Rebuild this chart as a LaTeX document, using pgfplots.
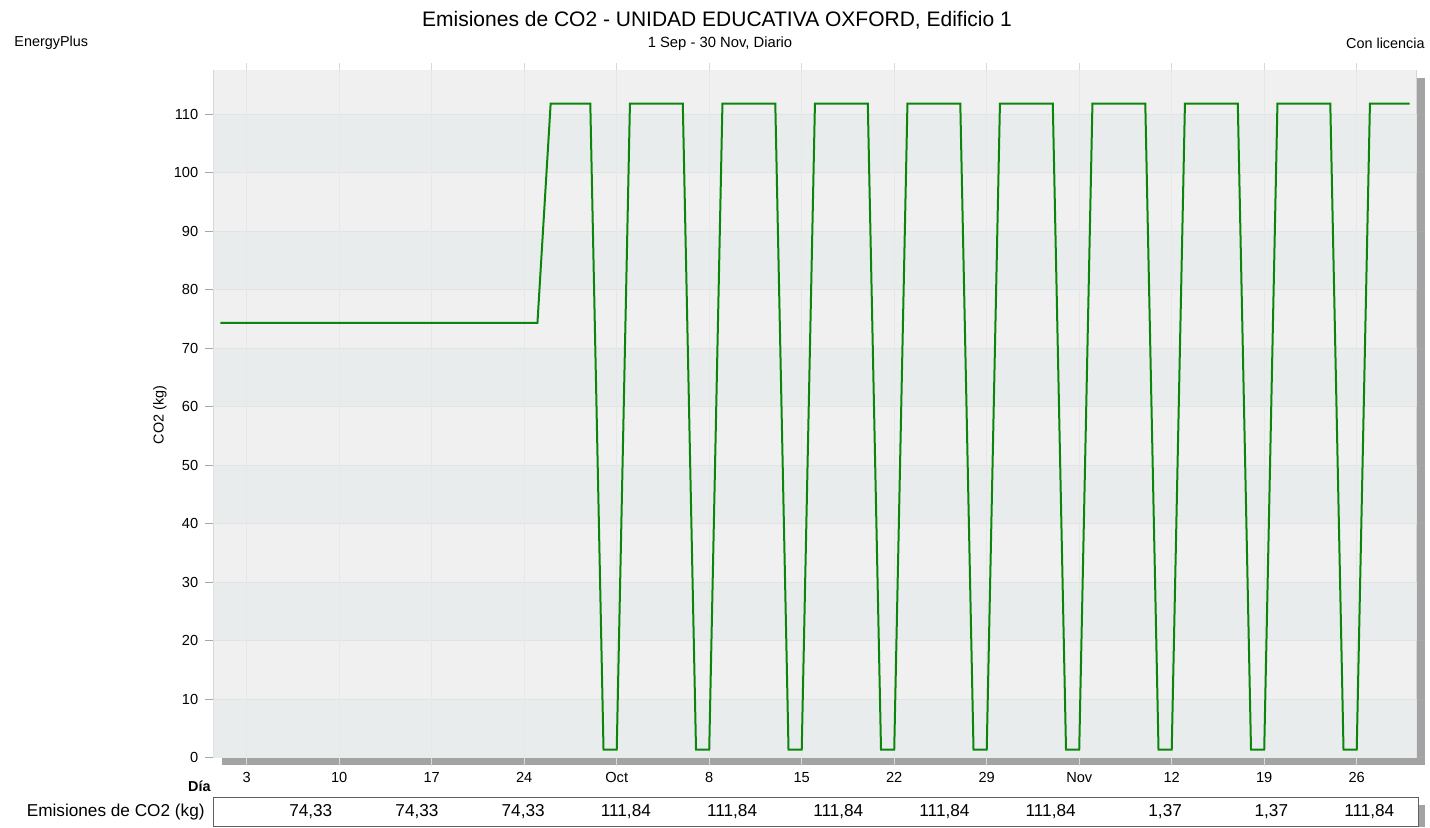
\documentclass[border=0pt]{standalone}
\usepackage{pgfplots}
\pgfplotsset{compat=1.18}
\usepackage{fontspec}
\setmainfont{Liberation Sans}
\definecolor{bandlight}{HTML}{EFF0EF}
\definecolor{banddark}{HTML}{E9ECEC}
\definecolor{gridc}{HTML}{E1E3E4}
\definecolor{vgridc}{HTML}{E6E8E8}
\definecolor{shadowc}{HTML}{A3A3A3}
\definecolor{co2line}{RGB}{10,135,10}

\begin{document}
\begin{tikzpicture}
% page is 1430x827 px at 0.5pt per px
\node[font=\fontsize{10.5}{12}\selectfont] at (358.5pt,403.5pt) {Emisiones de CO2 - UNIDAD EDUCATIVA OXFORD, Edificio 1};
\node[font=\fontsize{7.4}{8}\selectfont] at (360pt,391.5pt) {1 Sep - 30 Nov, Diario};
\node[font=\fontsize{7.2}{8}\selectfont, anchor=west, inner sep=0pt] at (7pt,392pt) {EnergyPlus};
\node[font=\fontsize{7.2}{8}\selectfont, anchor=east, inner sep=0pt] at (712.5pt,392pt) {Con licencia};
\node[font=\fontsize{7.2}{8}\selectfont, rotate=90] at (80pt,206pt) {CO2 (kg)};

% drop shadow of the plot area
\fill[shadowc] (110.85pt,31pt) rectangle (712.5pt,374.5pt);

\begin{axis}[
    at={(106.65pt,34.65pt)}, anchor=south west,
    scale only axis,
    width=601.7pt, height=343.35pt,
    xmin=0.47, xmax=91.54,
    ymin=0, ymax=117.4,
    xtick={3,10,17,24,31,38,45,52,59,66,73,80,87},
    xticklabels={3,10,17,24,Oct,8,15,22,29,Nov,12,19,26},
    ytick={0,10,...,110},
    tick align=outside,
    major tick length=4pt,
    xtick style={draw=gray!30, line width=0.5pt},
    ytick style={draw=gray!70, line width=0.5pt},
    axis line style={draw=gray!70, line width=0.5pt},
    tick label style={font=\fontsize{7.3}{8}\selectfont},
    /pgf/number format/assume math mode=true,
    clip=true,
]
% background bands between the grid lines
\fill[bandlight] (axis cs:0,0) rectangle (axis cs:95,120);
\pgfplotsinvokeforeach{0,20,...,100}{
  \fill[banddark] (axis cs:0,#1) rectangle (axis cs:95,#1+10);
}
\pgfplotsinvokeforeach{10,20,...,110}{
  \draw[gridc, line width=0.5pt] (axis cs:0,#1) -- (axis cs:95,#1);
}
\pgfplotsinvokeforeach{3,10,17,24,31,38,45,52,59,66,73,80,87}{
  \draw[vgridc, line width=0.5pt] (axis cs:#1,0) -- (axis cs:#1,120);
}

\addplot[co2line, line width=1pt, line join=miter] coordinates {
 (1,74.33) (2,74.33) (3,74.33) (4,74.33) (5,74.33) (6,74.33) (7,74.33)
 (8,74.33) (9,74.33) (10,74.33) (11,74.33) (12,74.33) (13,74.33) (14,74.33)
 (15,74.33) (16,74.33) (17,74.33) (18,74.33) (19,74.33) (20,74.33) (21,74.33)
 (22,74.33) (23,74.33) (24,74.33) (25,74.33)
 (26,111.84) (27,111.84) (28,111.84) (29,111.84)
 (30,1.37) (31,1.37)
 (32,111.84) (33,111.84) (34,111.84) (35,111.84) (36,111.84)
 (37,1.37) (38,1.37)
 (39,111.84) (40,111.84) (41,111.84) (42,111.84) (43,111.84)
 (44,1.37) (45,1.37)
 (46,111.84) (47,111.84) (48,111.84) (49,111.84) (50,111.84)
 (51,1.37) (52,1.37)
 (53,111.84) (54,111.84) (55,111.84) (56,111.84) (57,111.84)
 (58,1.37) (59,1.37)
 (60,111.84) (61,111.84) (62,111.84) (63,111.84) (64,111.84)
 (65,1.37) (66,1.37)
 (67,111.84) (68,111.84) (69,111.84) (70,111.84) (71,111.84)
 (72,1.37) (73,1.37)
 (74,111.84) (75,111.84) (76,111.84) (77,111.84) (78,111.84)
 (79,1.37) (80,1.37)
 (81,111.84) (82,111.84) (83,111.84) (84,111.84) (85,111.84)
 (86,1.37) (87,1.37)
 (88,111.84) (89,111.84) (90,111.84) (91,111.84)
};
\end{axis}

\node[font=\bfseries\fontsize{7.2}{8}\selectfont, anchor=east, inner sep=0pt] at (105.5pt,20.5pt) {Día};

% summary row
\fill[shadowc] (709pt,0pt) rectangle (712.5pt,11pt);
\draw[gray!75!black, line width=0.5pt, fill=white] (106.5pt,0.5pt) rectangle (709pt,15pt);
\node[font=\fontsize{8.6}{9}\selectfont, anchor=east, inner sep=0pt] at (102.5pt,7.5pt) {Emisiones de CO2 (kg)};
\foreach \k/\v in {0/{74,33},1/{74,33},2/{74,33},3/{111,84},4/{111,84},5/{111,84},6/{111,84},7/{111,84},8/{1,37},9/{1,37},10/{111,84}}{
  \node[font=\fontsize{8.6}{9}\selectfont, anchor=east, inner sep=0pt] at ({166.35pt+\k*53.1pt},7.5pt) {\v};
}

\pgfresetboundingbox
\path[use as bounding box] (0,0) rectangle (715pt,413.5pt);
\end{tikzpicture}
\end{document}
